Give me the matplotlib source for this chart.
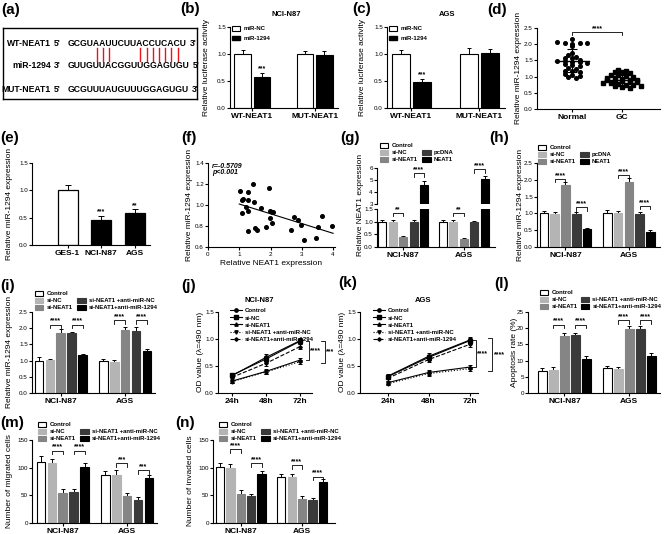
import numpy as np
import matplotlib.pyplot as plt
from matplotlib.patches import Patch
from matplotlib.lines import Line2D
from matplotlib.font_manager import FontProperties

plt.rcParams['font.family'] = ['Liberation Sans', 'DejaVu Sans']
plt.rcParams['axes.linewidth'] = 0.8
plt.rcParams['xtick.major.width'] = 0.8
plt.rcParams['ytick.major.width'] = 0.8
plt.rcParams['xtick.major.size'] = 2
plt.rcParams['ytick.major.size'] = 2
plt.rcParams['xtick.major.pad'] = 1.5
plt.rcParams['ytick.major.pad'] = 1
plt.rcParams['xtick.labelsize'] = 4.5
plt.rcParams['ytick.labelsize'] = 4.5

W, H = 667, 534

# ---------------- data ----------------
wt_seq = "GCGUAAUUCUUACCUCACU"
mir_seq = "GUUGUUACGGUUGGAGUGU"
mut_seq = "GCGUUUAUGUUUGGAGUGU"
pair_idx = [4, 5, 6, 11, 12, 13, 14, 15, 16, 17]

luc_groups = ['WT-NEAT1', 'MUT-NEAT1']
luc_labels = ['miR-NC', 'miR-1294']
luc_nci = [[1.0, 0.57], [1.0, 0.99]]
luc_nci_err = [[0.08, 0.08], [0.06, 0.07]]
luc_ags = [[1.0, 0.49], [1.0, 1.01]]
luc_ags_err = [[0.07, 0.05], [0.12, 0.08]]

tissue = ['Normal', 'GC']
normal_expr = [2.17, 2.06, 2.04, 2.02, 2.05, 2.03, 1.93, 1.72, 1.66, 1.62, 1.58, 1.56,
               1.50, 1.48, 1.47, 1.46, 1.45, 1.42, 1.38, 1.36, 1.33, 1.28, 1.24, 1.18,
               1.16, 1.13, 1.08, 1.05, 1.01, 0.99, 0.97]
gc_expr = [1.19, 1.17, 1.15, 1.13, 1.11, 1.06, 1.04, 1.01, 0.99, 0.97, 0.95, 0.93,
           0.91, 0.90, 0.88, 0.87, 0.85, 0.84, 0.82, 0.80, 0.79, 0.77, 0.75, 0.74,
           0.72, 0.70, 0.68, 0.66]

cell_lines = ['GES-1', 'NCI-N87', 'AGS']
cell_mir = [1.0, 0.45, 0.58]
cell_mir_err = [0.1, 0.08, 0.07]

neat1_x = [1.02, 1.08, 1.13, 1.08, 1.29, 1.29, 1.22, 1.27, 1.29, 1.45, 1.47, 1.50,
           1.56, 1.69, 1.86, 1.96, 1.98, 1.98, 2.04, 2.09, 2.06, 2.65, 2.76, 2.87,
           2.98, 3.08, 3.45, 3.53, 3.64, 3.98]
mir_y = [1.13, 1.05, 1.06, 0.92, 1.12, 1.05, 0.98, 0.94, 0.75, 1.20, 1.03, 0.78,
         0.76, 0.97, 0.79, 1.16, 0.94, 0.88, 0.93, 0.93, 0.83, 0.76, 0.89, 0.86,
         0.81, 0.67, 0.69, 0.79, 0.90, 0.80]

cells = ['NCI-N87', 'AGS']
g_labels = ['Control', 'si-NC', 'si-NEAT1', 'pcDNA', 'NEAT1']
g_val = [[1.0, 1.0, 0.40, 1.0, 4.6], [1.0, 1.0, 0.33, 0.98, 5.05]]
g_err = [[0.06, 0.06, 0.04, 0.07, 0.35], [0.07, 0.07, 0.02, 0.04, 0.3]]

h_val = [[1.0, 0.99, 1.84, 0.97, 0.54], [1.0, 1.02, 1.94, 0.99, 0.45]]
h_err = [[0.07, 0.06, 0.1, 0.07, 0.04], [0.1, 0.06, 0.1, 0.06, 0.07]]

r_labels = ['Control', 'si-NC', 'si-NEAT1', 'si-NEAT1 +anti-miR-NC', 'si-NEAT1+anti-miR-1294']
i_val = [[1.0, 1.02, 1.84, 1.84, 1.16], [1.0, 0.96, 1.94, 1.92, 1.30]]
i_err = [[0.12, 0.04, 0.12, 0.04, 0.05], [0.05, 0.07, 0.1, 0.12, 0.06]]

times = ['24h', '48h', '72h']
j_val = [[0.32, 0.66, 0.97], [0.33, 0.63, 0.96], [0.22, 0.40, 0.61],
         [0.21, 0.39, 0.58], [0.29, 0.55, 0.86]]
j_err = [[0.05, 0.06, 0.05], [0.04, 0.05, 0.05], [0.04, 0.04, 0.04],
         [0.03, 0.04, 0.04], [0.04, 0.05, 0.05]]
k_val = [[0.31, 0.68, 0.98], [0.30, 0.66, 0.97], [0.19, 0.38, 0.48],
         [0.17, 0.36, 0.45], [0.27, 0.62, 0.90]]
k_err = [[0.05, 0.06, 0.05], [0.04, 0.05, 0.05], [0.03, 0.05, 0.04],
         [0.03, 0.04, 0.04], [0.04, 0.05, 0.05]]

l_val = [[6.9, 7.1, 17.5, 17.8, 10.4], [7.6, 7.3, 19.6, 19.7, 11.3]]
l_err = [[0.8, 0.9, 1.1, 0.8, 1.1], [0.7, 0.7, 1.0, 1.0, 1.1]]

m_val = [[109.7, 108.5, 55.0, 56.3, 100.6], [87.1, 85.9, 48.4, 42.3, 80.5]]
m_err = [[11, 8, 7, 6, 8], [6, 9, 6, 4, 7]]

n_val = [[102, 100, 52, 48, 88], [84, 84, 43, 41, 74]]
n_err = [[7, 6, 7, 5, 6], [4, 5, 5, 4, 5]]

# ---------------- helpers ----------------
fig = plt.figure(figsize=(W / 100, H / 100), dpi=100)

gray_cols = ['white', '#b4b4b4', '#858585', '#3a3a3a', 'black']
gray_edges = ['black', '#b4b4b4', '#858585', '#3a3a3a', 'black']


def panel(x0, y0, x1, y1):
    ax = fig.add_axes([x0 / W, 1 - y1 / H, (x1 - x0) / W, (y1 - y0) / H])
    ax.spines['top'].set_visible(False)
    ax.spines['right'].set_visible(False)
    return ax


def ftext(x, y, s, **kw):
    fig.text(x / W, 1 - y / H, s, **kw)


def plabel(x, y, s):
    ftext(x, y, s, fontsize=11, fontweight='bold', va='top', ha='left')


def ylab(x, y, s, fs=6):
    ftext(x, y, s, fontsize=fs, rotation=90, ha='center', va='center')


def bars(ax, vals, errs, colors, edges, gap, width=0.78):
    xs = []
    for g, (v, e) in enumerate(zip(vals, errs)):
        x = g * gap + np.arange(len(v))
        ax.errorbar(x, v, yerr=[np.zeros(len(v)), e], fmt='none', ecolor='black',
                    elinewidth=0.7, capsize=1.6, capthick=0.7, zorder=1)
        ax.bar(x, v, width, color=colors, edgecolor=edges, linewidth=0.8, zorder=2)
        xs.append(x)
    ax.set_xticks([x.mean() for x in xs])
    return xs


def bracket(ax, x1, x2, y, leg, text, fs=5):
    ax.plot([x1, x1, x2, x2], [y - leg, y, y, y - leg], color='black', lw=0.6, clip_on=False)
    ax.text((x1 + x2) / 2, y, text, ha='center', va='bottom', fontsize=fs, fontweight='bold')


def vbracket(ax, x, y1, y2, leg, text, fs=5):
    ax.plot([x - leg, x, x, x - leg], [y1, y1, y2, y2], color='black', lw=0.6, clip_on=False)
    ax.annotate(text, (x, (y1 + y2) / 2), xytext=(1.0, 0), textcoords='offset points',
                ha='left', va='center', fontsize=fs, fontweight='bold', annotation_clip=False)


def legend(ax, handles, labels, x, y, ncol=1, colsp=0.8, hl=1.4, ls=0.28, fs=4.3):
    ax.legend(handles, labels, loc='upper left', bbox_to_anchor=(x / W, 1 - y / H),
              bbox_transform=fig.transFigure, ncol=ncol, frameon=False,
              prop={'size': fs, 'weight': 'bold'}, handlelength=hl, handleheight=0.8,
              handletextpad=0.5, labelspacing=ls, columnspacing=colsp,
              borderpad=0, borderaxespad=0)


def boldx(ax, labels, fs=6):
    ax.set_xticklabels(labels, fontsize=fs, fontweight='bold')


def yfmt(ax, ticks, fmt='%.1f'):
    ax.set_yticks(ticks)
    ax.set_yticklabels([fmt % t for t in ticks])


hg = [Patch(facecolor=c, edgecolor=e, linewidth=0.8) for c, e in zip(gray_cols, gray_edges)]
blank = Patch(facecolor='none', edgecolor='none')
hg6 = [hg[0], hg[1], hg[2], blank, hg[3], hg[4]]
rl6 = [r_labels[0], r_labels[1], r_labels[2], '', r_labels[3], r_labels[4]]

# ---------------- (a) ----------------
plabel(1, 3, '(a)')
ax_a = fig.add_axes([3 / W, 1 - 99 / H, 194 / W, 71 / H])
ax_a.set_xlim(0, 194)
ax_a.set_ylim(71, 0)
ax_a.set_xticks([])
ax_a.set_yticks([])
for s in ax_a.spines.values():
    s.set_linewidth(1.0)
fp = FontProperties(family=['Liberation Sans'], weight='bold', size=6.2)
rend = fig.canvas.get_renderer()


def tw(s):
    return rend.get_text_width_height_descent(s, fp, ismath=False)[0]


seq_x = 65
rows = [('WT-NEAT1', "5'", wt_seq, "3'", 15), ('miR-1294', "3'", mir_seq, "5'", 37),
        ('MUT-NEAT1', "5'", mut_seq, "3'", 61)]
for name, e1, seq, e2, yy in rows:
    ax_a.text(48, yy, name, fontproperties=fp, ha='right', va='center')
    ax_a.text(51, yy, e1, fontproperties=fp, ha='left', va='center')
    ax_a.text(seq_x, yy, seq, fontproperties=fp, ha='left', va='center')
    ax_a.text(seq_x + tw(seq) + 3, yy, e2, fontproperties=fp, ha='left', va='center')
for i in pair_idx:
    cx = seq_x + tw(wt_seq[:i + 1]) - tw(wt_seq[i]) / 2
    ax_a.plot([cx, cx], [20, 33], color='#e8141b', lw=1.0)

# ---------------- (b), (c) ----------------
for lab, lx, ax_box, vals, errs, title, tx in [
        ('(b)', 180, (230, 27, 338, 108), luc_nci, luc_nci_err, 'NCI-N87', 286),
        ('(c)', 352, (387, 27, 505, 108), luc_ags, luc_ags_err, 'AGS', 447)]:
    plabel(lx, 2, lab)
    ax = panel(*ax_box)
    xs = bars(ax, vals, errs, ['white', 'black'], ['black', 'black'], gap=3.2, width=0.85)
    ax.set_xlim(-0.65, 4.9)
    ax.set_ylim(0, 1.5)
    yfmt(ax, [0, 0.5, 1.0, 1.5])
    boldx(ax, luc_groups)
    ax.text(xs[0][1], vals[0][1] + errs[0][1] + 0.01, '***', ha='center', va='bottom',
            fontsize=5, fontweight='bold')
    legend(ax, [Patch(facecolor='white', edgecolor='black', linewidth=0.8),
                Patch(facecolor='black', edgecolor='black')], luc_labels,
           ax_box[0] + 2, 26, ls=0.75)
    ylab(ax_box[0] - 24, 67, 'Relative luciferase activity')
    ftext(tx, 15, title, fontsize=5.5, fontweight='bold', ha='center', va='center')

# ---------------- (d) ----------------
plabel(487, 3, '(d)')
ax_d = panel(537, 28, 660, 109)


def swarm_x(vals, center, row, step):
    vals = np.asarray(vals)
    xs = np.zeros(len(vals))
    bins = np.floor(vals / row)
    for b in np.unique(bins):
        idx = np.where(bins == b)[0]
        xs[idx] = center + (np.arange(len(idx)) - (len(idx) - 1) / 2) * step
    return xs


ax_d.plot(swarm_x(normal_expr, 0, 0.1, 0.15), normal_expr, 'o', color='black', ms=2.6)
ax_d.plot(swarm_x(gc_expr, 1, 0.09, 0.15), gc_expr, 's', color='black', ms=2.4)
for xc, v in [(0, normal_expr), (1, gc_expr)]:
    m, sd = np.mean(v), np.std(v)
    ax_d.plot([xc - 0.34, xc + 0.34], [m, m], color='black', lw=1.0)
    ax_d.errorbar([xc], [m], yerr=[sd], fmt='none', ecolor='black', elinewidth=0.8,
                  capsize=3.5, capthick=0.8)
ax_d.set_xlim(-0.7, 1.76)
ax_d.set_ylim(0, 2.5)
ax_d.set_xticks([0, 1])
boldx(ax_d, tissue)
yfmt(ax_d, [0, 0.5, 1.0, 1.5, 2.0, 2.5])
bracket(ax_d, 0, 1, 2.38, 0.09, '****')
ylab(519, 68, 'Relative miR-1294 expression')

# ---------------- (e) ----------------
plabel(0, 131, '(e)')
ax_e = panel(32, 163, 150, 245)
xe = np.arange(len(cell_lines))
ax_e.errorbar(xe, cell_mir, yerr=[np.zeros(3), cell_mir_err], fmt='none', ecolor='black',
              elinewidth=0.7, capsize=2.2, capthick=0.7)
ax_e.bar(xe, cell_mir, 0.6, color=['white', 'black', 'black'], edgecolor='black', linewidth=0.9)
ax_e.set_xlim(-1.06, 2.45)
ax_e.set_ylim(0, 1.5)
ax_e.set_xticks(xe)
boldx(ax_e, cell_lines)
yfmt(ax_e, [0, 0.5, 1.0, 1.5])
for x, v, e, s in zip(xe[1:], cell_mir[1:], cell_mir_err[1:], ['***', '**']):
    ax_e.text(x, v + e + 0.01, s, ha='center', va='bottom', fontsize=5, fontweight='bold')
ylab(10, 204, 'Relative miR-1294 expression')

# ---------------- (f) ----------------
plabel(181, 131, '(f)')
ax_f = panel(208, 163, 335, 247)
ax_f.plot(neat1_x, mir_y, 'o', color='black', ms=2.6)
slope, icpt = np.polyfit(neat1_x, mir_y, 1)
fx = np.array([1.0, 4.0])
ax_f.plot(fx, slope * fx + icpt, color='black', lw=0.8)
ax_f.set_xlim(0, 4.06)
ax_f.set_ylim(0.6, 1.4)
ax_f.set_xticks([0, 1, 2, 3, 4])
yfmt(ax_f, [0.6, 0.8, 1.0, 1.2, 1.4])
ax_f.text(0.12, 1.37, 'r=-0.5709', fontsize=5, fontweight='bold', style='italic', va='center')
ax_f.text(0.12, 1.305, 'p<0.001', fontsize=5, fontweight='bold', style='italic', va='center')
ax_f.set_xlabel('Relative NEAT1 expression', fontsize=6, labelpad=2)
ylab(189, 205, 'Relative miR-1294 expression')

# ---------------- (g) broken axis ----------------
plabel(340, 131, '(g)')
g_gap = 5.8
ax_gl = panel(377, 209, 495, 247)
ax_gu = panel(377, 168, 495, 204)
xs_g = bars(ax_gl, g_val, g_err, gray_cols, gray_edges, g_gap, width=0.76)
bars(ax_gu, g_val, g_err, gray_cols, gray_edges, g_gap, width=0.76)
for ax in (ax_gl, ax_gu):
    ax.set_xlim(-0.48, 10.76)
ax_gl.set_ylim(0, 1.5)
ax_gu.set_ylim(3, 6)
yfmt(ax_gl, [0, 0.5, 1.0, 1.5])
yfmt(ax_gu, [3, 4, 5, 6], '%d')
boldx(ax_gl, cells)
ax_gu.spines['bottom'].set_visible(False)
ax_gu.set_xticks([])
for x in xs_g:
    bracket(ax_gl, x[1], x[2], 1.34, 0.12, '**')
bracket(ax_gu, xs_g[0][3], xs_g[0][4], 5.55, 0.3, '****')
bracket(ax_gu, xs_g[1][3], xs_g[1][4], 5.9, 0.3, '****')
legend(ax_gl, hg6, ['Control', 'si-NC', 'si-NEAT1', '', 'pcDNA', 'NEAT1'], 380, 143, ncol=2)
ylab(361, 205, 'Relative NEAT1 expression')

# ---------------- (h) ----------------
plabel(489, 131, '(h)')
ax_h = panel(537, 163, 660, 247)
xs_h = bars(ax_h, h_val, h_err, gray_cols, gray_edges, 5.9, width=0.8)
ax_h.set_xlim(-0.65, 10.8)
ax_h.set_ylim(0, 2.5)
yfmt(ax_h, [0, 0.5, 1.0, 1.5, 2.0, 2.5])
boldx(ax_h, cells)
bracket(ax_h, xs_h[0][1], xs_h[0][2], 2.02, 0.1, '****')
bracket(ax_h, xs_h[0][3], xs_h[0][4], 1.18, 0.1, '****')
bracket(ax_h, xs_h[1][1], xs_h[1][2], 2.15, 0.1, '****')
bracket(ax_h, xs_h[1][3], xs_h[1][4], 1.22, 0.1, '****')
legend(ax_h, hg6, ['Control', 'si-NC', 'si-NEAT1', '', 'pcDNA', 'NEAT1'], 538, 145, ncol=2)
ylab(521, 205, 'Relative miR-1294 expression')

# ---------------- (i) ----------------
plabel(0, 279, '(i)')
ax_i = panel(32, 312, 155, 393)
xs_i = bars(ax_i, i_val, i_err, gray_cols, gray_edges, 5.9, width=0.8)
ax_i.set_xlim(-0.64, 10.64)
ax_i.set_ylim(0, 2.5)
yfmt(ax_i, [0, 0.5, 1.0, 1.5, 2.0, 2.5])
boldx(ax_i, cells)
for x, y in zip(xs_i, [2.11, 2.24]):
    bracket(ax_i, x[1], x[2], y, 0.1, '****')
    bracket(ax_i, x[3], x[4], y, 0.1, '****')
legend(ax_i, hg6, rl6, 35, 291, ncol=2)
ylab(10, 352, 'Relative miR-1294 expression')

# ---------------- (j), (k) ----------------
line_styles = [('o', '-'), ('s', '-'), ('^', '-'), ('v', ':'), ('D', '--')]


def growth(ax, vals, errs):
    tx = np.arange(len(times))
    hs = []
    for (mk, ls), v, e in zip(line_styles, vals, errs):
        ms = 2.4 if mk != 'D' else 1.8
        ax.errorbar(tx, v, yerr=e, color='black', lw=0.8, ls=ls, marker=mk,
                    ms=ms, elinewidth=0.7, capsize=1.5, capthick=0.7)
        hs.append(Line2D([], [], color='black', lw=0.8, ls=ls, marker=mk, ms=ms))
    ax.set_xticks(tx)
    boldx(ax, times)
    ax.set_ylim(0, 1.5)
    yfmt(ax, [0, 0.5, 1.0, 1.5])
    return hs


plabel(181, 279, '(j)')
ax_j = panel(218, 312, 312, 393)
hj = growth(ax_j, j_val, j_err)
ax_j.set_xlim(-0.41, 2.35)
vbracket(ax_j, 2.26, j_val[0][2], j_val[2][2], 0.1, '****')
vbracket(ax_j, 2.72, j_val[1][2], j_val[3][2] - 0.03, 0.1, '***')
legend(ax_j, hj, r_labels, 230, 308, hl=2.0, ls=0.3)
ftext(259, 300, 'NCI-N87', fontsize=5.5, fontweight='bold', ha='center', va='center')
ylab(200, 352, 'OD value (λ=490 nm)')

plabel(338, 276, '(k)')
ax_k = panel(360, 312, 478, 393)
hk = growth(ax_k, k_val, k_err)
ax_k.set_xlim(-0.67, 2.2)
vbracket(ax_k, 2.15, k_val[0][2], k_val[2][2], 0.1, '****')
vbracket(ax_k, 2.55, k_val[1][2] + 0.05, k_val[3][2] - 0.04, 0.1, '****')
legend(ax_k, hk, r_labels, 373, 308, hl=2.0, ls=0.3)
ftext(423, 300, 'AGS', fontsize=5.5, fontweight='bold', ha='center', va='center')
ylab(343, 352, 'OD value (λ=490 nm)')

# ---------------- (l) ----------------
plabel(494, 277, '(l)')
ax_l = panel(528, 312, 660, 393)
xs_l = bars(ax_l, l_val, l_err, gray_cols, gray_edges, 5.9, width=0.8)
ax_l.set_xlim(-1.32, 10.7)
ax_l.set_ylim(0, 25)
yfmt(ax_l, [0, 5, 10, 15, 20, 25], '%d')
boldx(ax_l, cells)
for x, y in zip(xs_l, [21.1, 22.4]):
    bracket(ax_l, x[1], x[2], y, 1.0, '****')
    bracket(ax_l, x[3], x[4], y, 1.0, '****')
legend(ax_l, hg6, rl6, 540, 290, ncol=2, colsp=0.6)
ylab(514, 352, 'Apoptosis rate (%)')

# ---------------- (m), (n) ----------------
for lab, lx, box, vals, errs, brk, stars, ylx, ytxt, xl in [
        ('(m)', 0, (32, 440, 157, 523), m_val, m_err, [(131, 131), (108, 95)],
         ['****', '***'], 10, 'Number of migrated cells', (-0.83, 10.64)),
        ('(n)', 175, (213, 440, 335, 523), n_val, n_err, [(133, 108), (104, 84)],
         ['****', '****'], 190, 'Number of invaded cells', (-0.67, 11.06))]:
    plabel(lx, 416, lab)
    ax = panel(*box)
    xs = bars(ax, vals, errs, gray_cols, gray_edges, 5.9, width=0.8)
    ax.set_xlim(*xl)
    ax.set_ylim(0, 150)
    yfmt(ax, [0, 50, 100, 150], '%d')
    boldx(ax, cells)
    for x, (y1, y2), s in zip(xs, brk, stars):
        bracket(ax, x[1], x[2], y1, 6, s)
        bracket(ax, x[3], x[4], y2, 6, s)
    legend(ax, hg6, rl6, box[0] + 6, 422, ncol=2)
    ylab(ylx, 481, ytxt)

fig.savefig('out.png', dpi=100)
